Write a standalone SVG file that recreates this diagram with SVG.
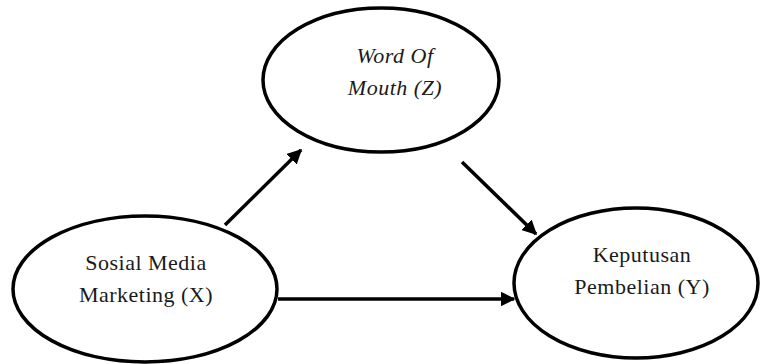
<svg xmlns="http://www.w3.org/2000/svg" width="762" height="364" viewBox="0 0 762 364">
<style>
.node{fill:#fff;stroke:#000;stroke-width:3.5}
.lbl{font-family:"Liberation Serif","Times New Roman",serif;font-size:22px;letter-spacing:0.5px;fill:#1a1a1a;text-anchor:middle}
.it{font-style:italic}
.edge{stroke:#000;stroke-width:3.5;fill:none}
</style>
<defs>
<marker id="ah" viewBox="0 0 10 10" refX="9" refY="5" markerWidth="4.2" markerHeight="4.2" orient="auto" markerUnits="strokeWidth">
<path d="M0,0 L10,5 L0,10 z" fill="#000"/>
</marker>
</defs>
<rect width="762" height="364" fill="#fff"/>
<g id="connectors">
<line class="edge" x1="225" y1="225" x2="301" y2="150" marker-end="url(#ah)"/>
<line class="edge" x1="462" y1="162" x2="536" y2="234" marker-end="url(#ah)"/>
<line class="edge" x1="278" y1="299" x2="514" y2="299" marker-end="url(#ah)"/>
</g>
<g id="nodeZ">
<ellipse class="node" cx="381" cy="80" rx="118" ry="72"/>
<text class="lbl it" x="395" y="63">Word Of</text>
<text class="lbl it" x="395" y="95">Mouth (Z)</text>
</g>
<g id="nodeX">
<ellipse class="node" cx="145" cy="289" rx="132" ry="73"/>
<text class="lbl" x="146" y="270">Sosial Media</text>
<text class="lbl" x="146" y="302">Marketing (X)</text>
</g>
<g id="nodeY">
<ellipse class="node" cx="636" cy="283" rx="122" ry="75"/>
<text class="lbl" x="642" y="262">Keputusan</text>
<text class="lbl" x="642" y="294">Pembelian (Y)</text>
</g>
</svg>
